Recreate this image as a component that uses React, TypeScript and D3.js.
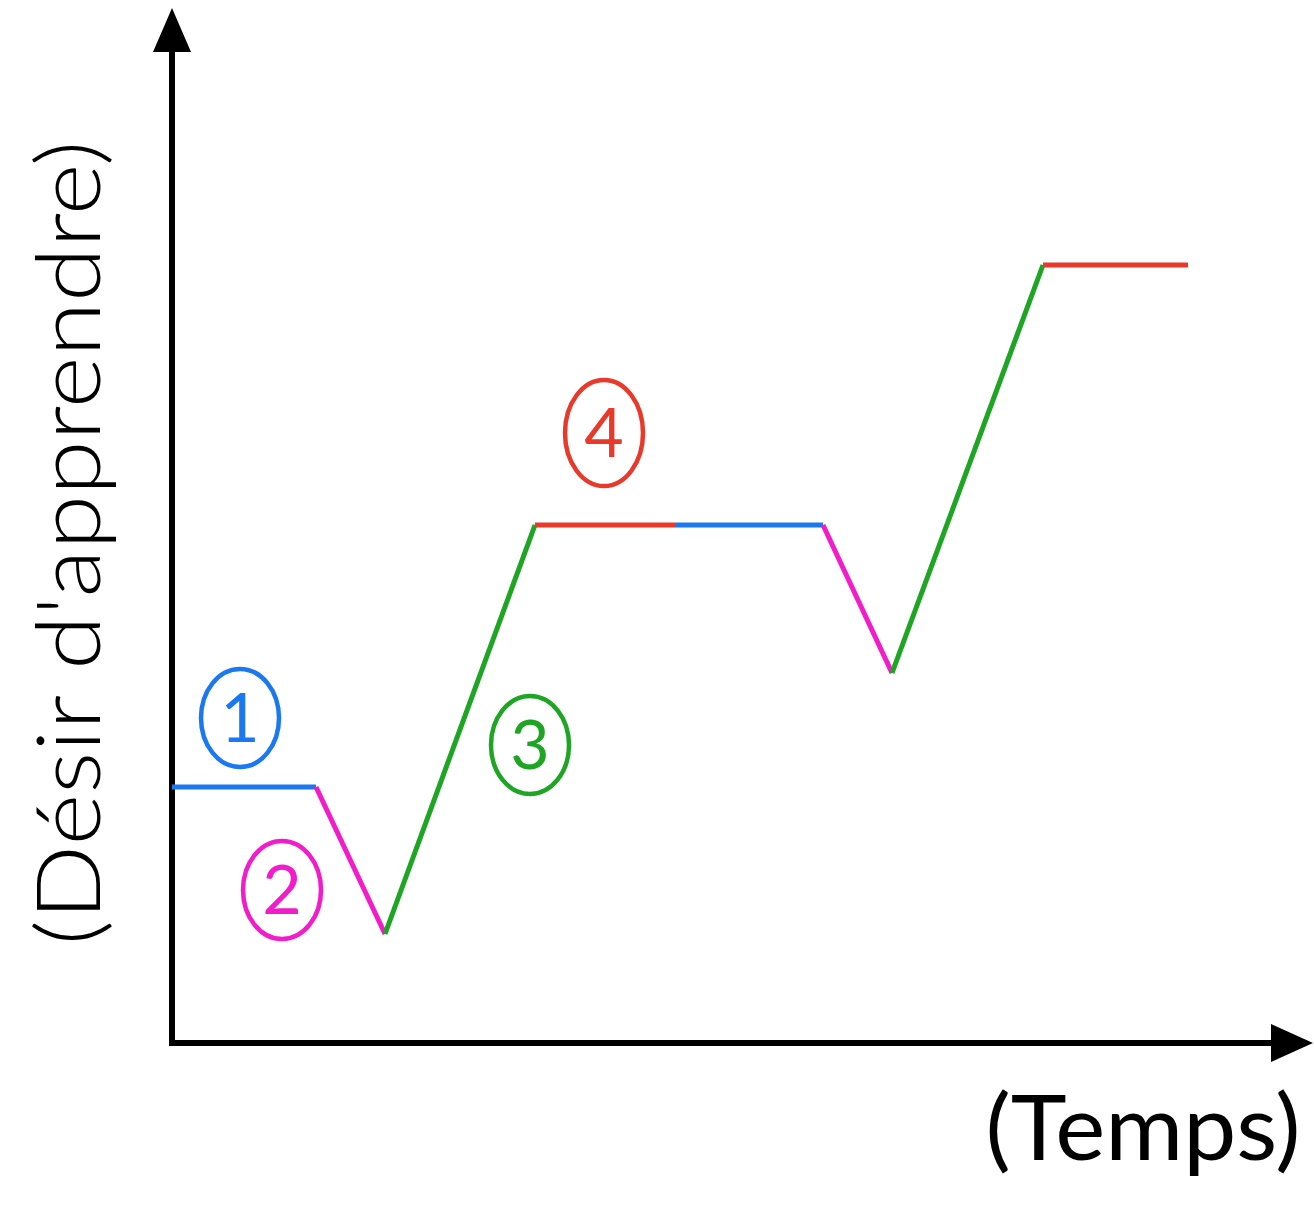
import React from "react";
import * as d3 from "d3";

// Time points (arbitrary units) and desire level at each point
const times = [0, 144, 213, 363, 504, 651, 720, 871, 1016];
const desire = [256, 256, 109, 518, 518, 518, 370, 778, 778];
// Colour of each segment between consecutive points
const segmentPhase = [1, 2, 3, 4, 1, 2, 3, 4];
// Circled phase labels: phase number, time, desire level
const labelPhase = [1, 2, 3, 4];
const labelTime = [68, 110, 358, 432];
const labelDesire = [325, 153, 298, 610];

const axisTitleY = "(Désir d'apprendre)";
const axisTitleX = "(Temps)";

const phaseColors: Record<number, string> = {
  1: "#1A78F0",
  2: "#F21CCB",
  3: "#1FA524",
  4: "#E8392A",
};

const W = 1314;
const H = 1209;
const x0 = 172;
const y0 = 1043;

export default function App() {
  const x = d3.scaleLinear().domain([0, 1141]).range([x0, 1313]);
  const y = d3.scaleLinear().domain([0, 1035]).range([y0, 8]);

  const segs = segmentPhase.map((p, i) => ({
    x1: x(times[i]),
    y1: y(desire[i]),
    x2: x(times[i + 1]),
    y2: y(desire[i + 1]),
    color: phaseColors[p],
  }));

  const font = "Lato, 'Open Sans', sans-serif";

  return (
    <svg
      width={W}
      height={H}
      style={{ position: "absolute", left: 0, top: 0, background: "#fff" }}
    >
      {/* axes */}
      <line x1={x(0)} y1={y(0)} x2={x(0)} y2={y(1035) + 38} stroke="#000" strokeWidth={6} />
      <path
        d={`M${x(0)},${y(1035)} L${x(0) - 19},${y(1035) + 44} L${x(0) + 19},${y(1035) + 44} Z`}
        fill="#000"
      />
      <line x1={x(0) - 3} y1={y(0)} x2={x(1141) - 36} y2={y(0)} stroke="#000" strokeWidth={6} />
      <path
        d={`M${x(1141)},${y(0)} L${x(1141) - 42},${y(0) - 19} L${x(1141) - 42},${y(0) + 19} Z`}
        fill="#000"
      />

      {/* segments */}
      {segs.map((s, i) => (
        <line
          key={i}
          x1={s.x1}
          y1={s.y1}
          x2={s.x2}
          y2={s.y2}
          stroke={s.color}
          strokeWidth={5}
          strokeLinecap="butt"
        />
      ))}

      {/* circled labels */}
      {labelPhase.map((p, i) => {
        const cx = x(labelTime[i]);
        const cy = y(labelDesire[i]);
        return (
          <g key={p}>
            <ellipse
              cx={cx}
              cy={cy}
              rx={39}
              ry={p === 4 ? 53 : 49}
              fill="none"
              stroke={phaseColors[p]}
              strokeWidth={4.5}
            />
            <text
              x={cx}
              y={cy + 24}
              textAnchor="middle"
              fontFamily={font}
              fontSize={68}
              fill={phaseColors[p]}
            >
              {p}
            </text>
          </g>
        );
      })}

      {/* axis titles */}
      <text
        transform={`translate(100, 543) rotate(-90)`}
        textAnchor="middle"
        fontFamily={font}
        fontSize={88}
        fontWeight={300}
        textLength={805}
        lengthAdjust="spacingAndGlyphs"
        fill="#000"
      >
        {axisTitleY}
      </text>
      <text
        x={1143}
        y={1160}
        textAnchor="middle"
        fontFamily={font}
        fontSize={92}
        textLength={315}
        lengthAdjust="spacingAndGlyphs"
        fill="#000"
      >
        {axisTitleX}
      </text>
    </svg>
  );
}
